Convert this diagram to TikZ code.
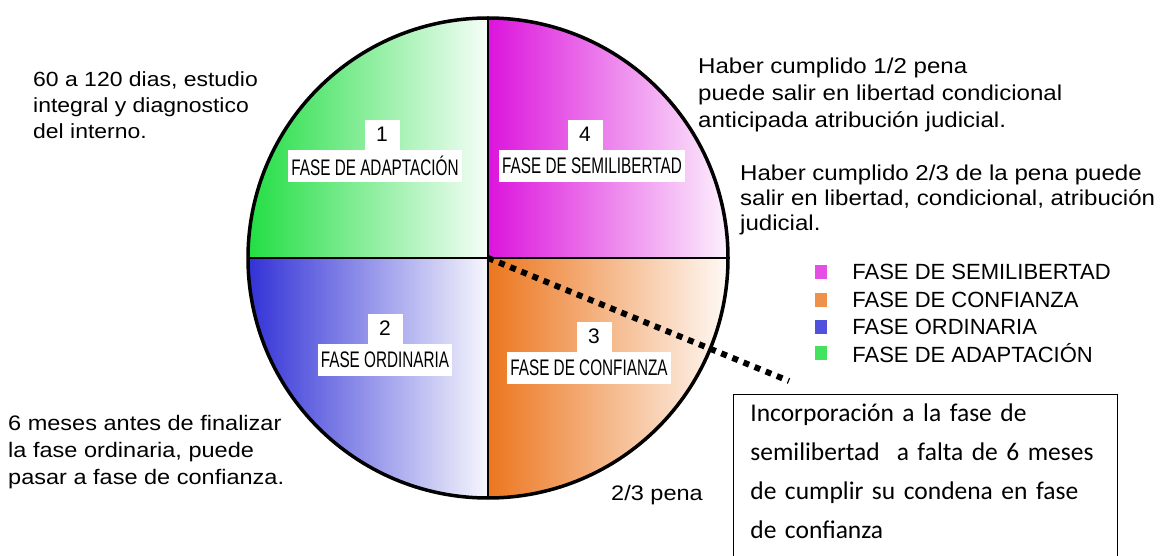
\documentclass[tikz,border=0pt]{standalone}
\usepackage{fontspec}
\setmainfont{Liberation Sans}
\newfontfamily\narrowfont[FakeStretch=0.68]{Liberation Sans}
\newfontfamily\descfont[FakeStretch=1.12]{Liberation Sans}
\newfontfamily\notefont{Carlito}
\usetikzlibrary{positioning}

\definecolor{adapta}{RGB}{34,222,68}
\definecolor{semil}{RGB}{220,20,220}
\definecolor{ordin}{RGB}{50,50,215}
\definecolor{confi}{RGB}{236,118,30}

\tikzset{
  fasebox/.style={fill=white, inner xsep=3pt, inner ysep=0pt, minimum height=32pt,
    font=\narrowfont\fontsize{22.5}{23}\selectfont},
  numbox/.style={fill=white, minimum width=35pt, minimum height=30pt, inner sep=0pt,
    font=\fontsize{21}{22}\selectfont},
  desc/.style={anchor=north west, inner sep=0pt, align=left},
  legsq/.style={minimum width=12pt, minimum height=14pt, inner sep=0pt},
  legtxt/.style={anchor=west, inner sep=0pt, font=\fontsize{22}{23}\selectfont},
}

\begin{document}
\begin{tikzpicture}[x=1pt,y=1pt]
        % Define the radius of the wheel
        \def\r{240}
        \useasboundingbox (0,0) rectangle (1163,555);
        \coordinate (c) at (488,297);

        % Fill the four quadrants
        \fill[left color=adapta, right color=adapta!4] (c) -- ++(-\r,0) arc[start angle=180, end angle=90, radius=\r] -- cycle;
        \fill[left color=semil, right color=semil!6] (c) -- ++(0,\r) arc[start angle=90, end angle=0, radius=\r] -- cycle;
        \fill[left color=ordin, right color=ordin!4] (c) -- ++(-\r,0) arc[start angle=180, end angle=270, radius=\r] -- cycle;
        \fill[left color=confi, right color=confi!4] (c) -- ++(\r,0) arc[start angle=0, end angle=-90, radius=\r] -- cycle;

        % Draw the dividing lines and the rim
        \draw[line width=2.5pt] (c) ++(-\r,0) -- ++(2*\r,0);
        \draw[line width=2.5pt] (c) ++(0,-\r) -- ++(0,2*\r);
        \draw[line width=3.5pt] (c) circle[radius=\r];

        % Dotted pointer to the note
        \coordinate (tip) at (789,174);
        \draw[line width=6pt, dash pattern=on 6pt off 6pt] (c) -- (tip);

        % Place the phase labels
        \node[fasebox] (t1) at (375,389) {FASE DE ADAPTACIÓN};
        \node[numbox, above=0pt of t1, xshift=7pt] (n1) {1};
        \node[fasebox] (t4) at (592,389) {FASE DE SEMILIBERTAD};
        \node[numbox, above=0pt of t4, xshift=-7pt] (n4) {4};
        \node[fasebox] (t2) at (385,195) {FASE ORDINARIA};
        \node[numbox, above=0pt of t2] (n2) {2};
        \node[fasebox] (t3) at (589,187) {FASE DE CONFIANZA};
        \node[numbox, above=0pt of t3, xshift=5pt] (n3) {3};

        % Place the descriptions
        \node[desc, font=\descfont\fontsize{20.5}{26}\selectfont] (d1) at (33,484) {60 a 120 dias, estudio\\integral y diagnostico\\del interno.};
        \node[desc, font=\descfont\fontsize{21}{27}\selectfont] (d2) at (8,140) {6 meses antes de finalizar\\la fase ordinaria, puede\\pasar a fase de confianza.};
        \node[desc, font=\descfont\fontsize{21.5}{27}\selectfont] (d4) at (698,497) {Haber cumplido 1/2 pena\\puede salir en libertad condicional\\anticipada atribución judicial.};
        \node[desc, font=\descfont\fontsize{21.5}{25}\selectfont] (d5) at (740,390) {Haber cumplido 2/3 de la pena puede\\salir en libertad, condicional, atribución\\judicial.};
        \node[font=\descfont\fontsize{21}{22}\selectfont] (d3) at (657,60) {2/3 pena};

        % Legend
        \node[legsq, fill=semil!75] (sq1) at (821,283) {};
        \node[legsq, fill=confi!80] (sq2) at (821,255) {};
        \node[legsq, fill=ordin!85] (sq3) at (821,228) {};
        \node[legsq, fill=adapta!85] (sq4) at (821,202) {};
        \node[legtxt, right=25pt of sq1] (l1) {FASE DE SEMILIBERTAD};
        \node[legtxt, right=25pt of sq2] (l2) {FASE DE CONFIANZA};
        \node[legtxt, right=25pt of sq3] (l3) {FASE ORDINARIA};
        \node[legtxt, right=25pt of sq4] (l4) {FASE DE ADAPTACIÓN};

        % The note box
        \node[draw, line width=0.8pt, anchor=north west, text width=350pt, inner xsep=17pt, inner ysep=9pt,
          align=left, text depth=160pt, font=\notefont\fontsize{25.5}{39}\selectfont] (nota) at (733,161)
          {Incorporación a la fase de\\semilibertad\ \ a falta de 6 meses\\de cumplir su condena en fase\\de confianza};
    \end{tikzpicture}
\end{document}
